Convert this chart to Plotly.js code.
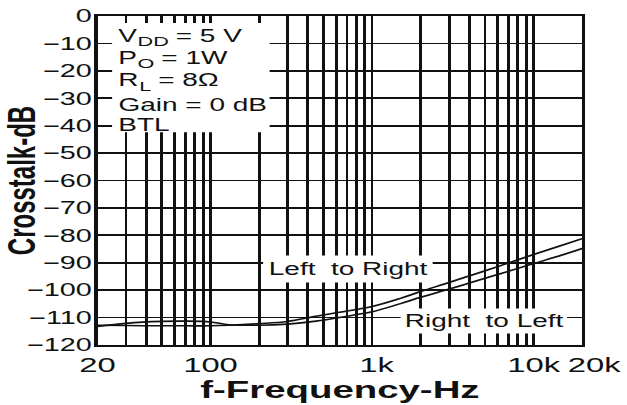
<!DOCTYPE html>
<html>
<head>
<meta charset="utf-8">
<script src="https://cdn.plot.ly/plotly-3.0.1.min.js"></script>
<style>
  html, body { margin: 0; padding: 0; background: #ffffff; overflow: hidden; }
  #wrap { width: 627px; height: 405px; overflow: hidden; }
  /* the chart is laid out on a narrow canvas and widened horizontally */
  #chart { width: 392px; height: 405px; transform: scaleX(1.5995); transform-origin: 0 0; }
</style>
</head>
<body>
<div id="wrap"><div id="chart"></div></div>
<script>
// Crosstalk vs frequency, VDD = 5 V, PO = 1 W, RL = 8 ohm, gain 0 dB, BTL
const freqHz = [20, 30, 50, 70, 100, 130, 200, 300, 450, 700, 1000, 1500, 2000, 3000, 4500, 6000, 10000, 15000, 20000];
const leftToRightDb = [-112.8, -112.9, -113.0, -113.0, -113.0, -112.8, -112.2, -111.4, -109.5, -107.6, -106.0, -103.0, -100.5, -97.2, -93.8, -91.4, -87.0, -83.6, -81.2];
const rightToLeftDb = [-113.2, -112.1, -111.4, -111.3, -111.6, -112.6, -112.8, -112.4, -111.3, -109.5, -107.9, -104.9, -102.6, -99.6, -96.5, -94.3, -90.3, -87.2, -84.8];

// labelled frequencies and the unlabelled decade grid between them
const xTickHz = [20, 100, 1000, 10000];
const xTickText = ['20', '100', '\u00A01k', '10k'];
const xEndLabel = '20k';
const xMinorHz = [30, 40, 50, 60, 70, 80, 90,
                  200, 300, 400, 500, 600, 700, 800, 900,
                  2000, 3000, 4000, 5000, 6000, 7000, 8000, 9000];
const yTicks = [0, -10, -20, -30, -40, -50, -60, -70, -80, -90, -100, -110, -120];

const seriesNames = ['Left  to Right', 'Right  to Left'];
// test conditions: [symbol, subscript, remainder]
const conditionLines = [
  ['V', 'DD', ' = 5 V'],
  ['P', 'O', ' = 1W'],
  ['R', 'L', ' = 8\u03A9'],
  ['Gain = 0 dB', '', ''],
  ['BTL', '', '']
];

const FONT = 'Liberation Sans, Arial, Helvetica, sans-serif';
const INK = '#111111';
const GRID_W = 1.8;
const M = { l: 61, r: 27.5, t: 16, b: 60 };
const W = 392, H = 405;
const plotW = W - M.l - M.r;
const TXT = 17.5, SUB = 13.5;

const ctx = document.createElement('canvas').getContext('2d');
function textWidth(s, size) {
  ctx.font = size + 'px "Liberation Sans", Arial, sans-serif';
  return ctx.measureText(s.replace(/ /g, '\u00A0')).width;
}

const traces = [
  { x: freqHz, y: leftToRightDb, name: seriesNames[0], type: 'scatter', mode: 'lines',
    line: { color: INK, width: 1.6, shape: 'spline', smoothing: 1 } },
  { x: freqHz, y: rightToLeftDb, name: seriesNames[1], type: 'scatter', mode: 'lines',
    line: { color: INK, width: 1.6, shape: 'spline', smoothing: 1 } }
];

// condition block: each line built from symbol, lowered subscript and remainder
const condY = [-7.2, -15.2, -23.5, -32.6, -39.8];
const condX = 0.04;
const annotations = [];
conditionLines.forEach((parts, i) => {
  let xPx = condX * plotW;
  parts.forEach((t, k) => {
    if (!t) return;
    const isSub = k === 1;
    const size = isSub ? SUB : TXT;
    annotations.push({
      text: t.replace(/ /g, '\u00A0'), xref: 'paper', yref: 'y',
      x: xPx / plotW, y: condY[i], yshift: isSub ? -6 : 0,
      xanchor: 'left', yanchor: 'middle', showarrow: false, borderpad: 0,
      font: { family: FONT, size: size, color: INK }
    });
    xPx += textWidth(t, size);
  });
});
annotations.push(
  { text: seriesNames[0].replace(/ /g, '\u00A0'), xref: 'paper', yref: 'y', x: 0.516, y: -92.1,
    xanchor: 'center', yanchor: 'middle', showarrow: false, bgcolor: '#ffffff', borderpad: 3,
    font: { family: FONT, size: TXT, color: INK } },
  { text: seriesNames[1].replace(/ /g, '\u00A0'), xref: 'paper', yref: 'y', x: 0.797, y: -111.2,
    xanchor: 'center', yanchor: 'middle', showarrow: false, bgcolor: '#ffffff', borderpad: 2,
    font: { family: FONT, size: TXT, color: INK } },
  // right-hand end of the frequency scale, set slightly outward like the other end label
  { text: xEndLabel, xref: 'paper', yref: 'paper', x: 1, xshift: 8, y: 0, yshift: -19,
    xanchor: 'center', yanchor: 'middle', showarrow: false,
    font: { family: FONT, size: 20.5, color: INK } }
);

const layout = {
  width: W, height: H,
  margin: M,
  paper_bgcolor: '#ffffff', plot_bgcolor: '#ffffff',
  showlegend: false,
  font: { family: FONT, color: INK },
  xaxis: {
    type: 'log',
    range: [Math.log10(20), Math.log10(20000)],
    tickmode: 'array',
    tickvals: xTickHz,
    ticktext: xTickText,
    tickangle: 0,
    ticks: '',
    showgrid: true, gridcolor: INK, gridwidth: GRID_W,
    minor: { tickmode: 'array', tickvals: xMinorHz, ticks: '',
             showgrid: true, gridcolor: INK, gridwidth: GRID_W },
    showline: true, mirror: true, linecolor: INK, linewidth: 2,
    zeroline: false,
    tickfont: { family: FONT, size: 20.5, color: INK },
    title: { text: 'f-Frequency-Hz', standoff: 4,
             font: { family: FONT, size: 24, color: INK, weight: 'bold' } }
  },
  yaxis: {
    range: [-120, 0],
    tickmode: 'array',
    tickvals: yTicks,
    ticks: '',
    ticklabelstandoff: -2,
    showgrid: true, gridcolor: INK, gridwidth: GRID_W,
    showline: true, mirror: true, linecolor: INK, linewidth: 2,
    zeroline: false,
    tickfont: { family: FONT, size: 18, color: INK },
    title: { text: 'Crosstalk-dB', standoff: 2,
             font: { family: FONT, size: 24, color: INK, weight: 'bold' } }
  },
  shapes: [
    { type: 'rect', xref: 'paper', yref: 'paper', x0: 0.03, x1: 0.355, y0: 0.647, y1: 0.979,
      fillcolor: '#ffffff', line: { width: 0 }, layer: 'above' }
  ],
  annotations: annotations
};

Plotly.newPlot('chart', traces, layout, { staticPlot: true, displayModeBar: false });
</script>
</body>
</html>
